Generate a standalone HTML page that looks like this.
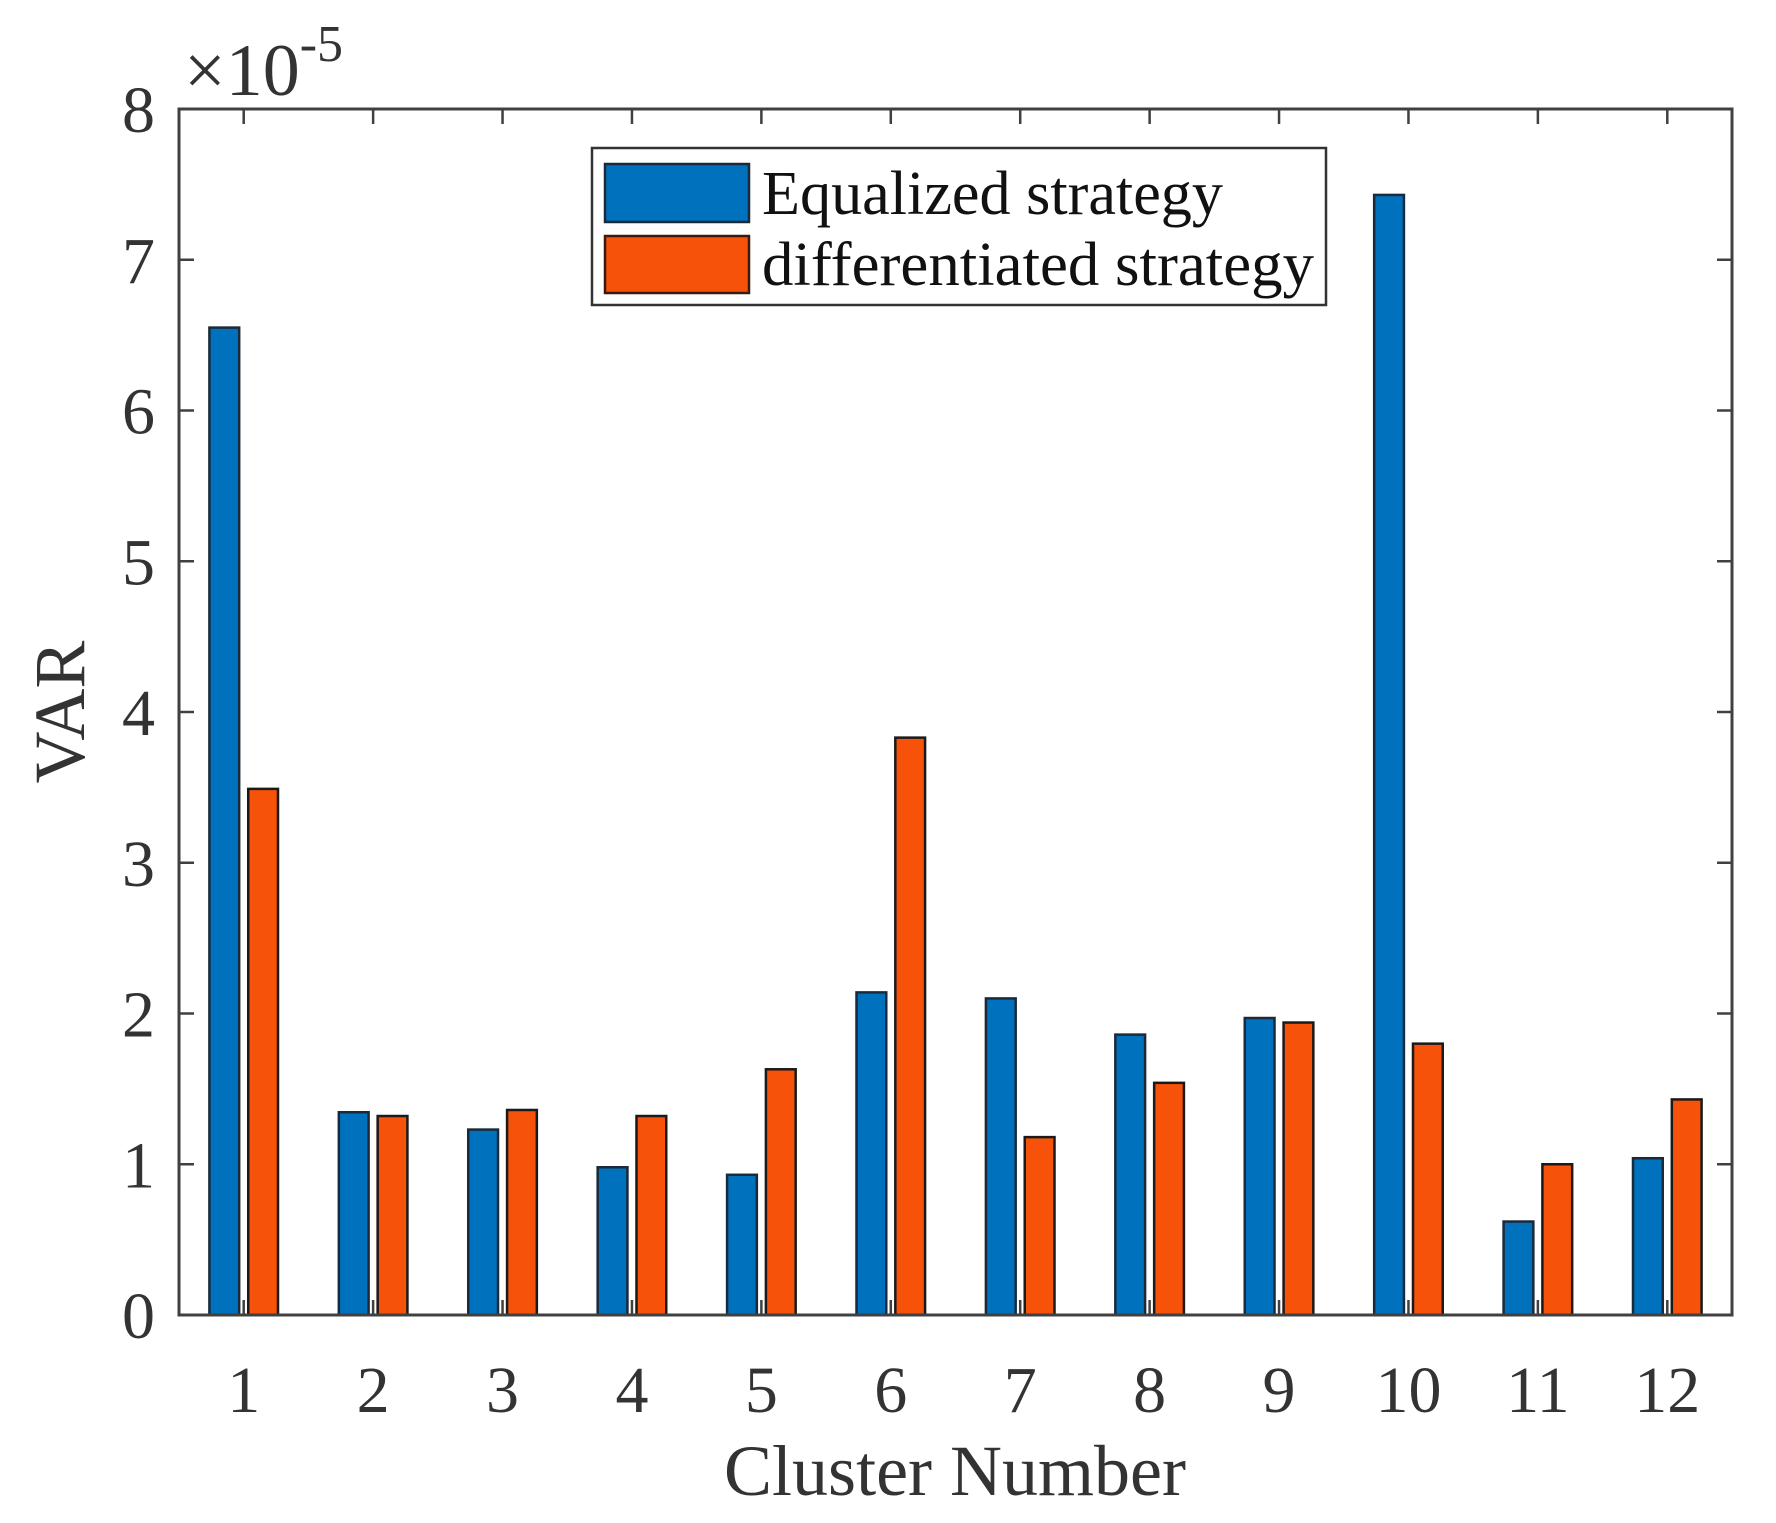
<!DOCTYPE html>
<html><head><meta charset="utf-8"><style>
html,body{margin:0;padding:0;background:#fff;}
svg{display:block;font-family:"Liberation Serif",serif;}
</style></head><body>
<svg id="chart" width="1776" height="1523" viewBox="0 0 1776 1523" xmlns="http://www.w3.org/2000/svg">
<rect x="0" y="0" width="1776" height="1523" fill="#fff"/>
<g id="bars"></g>
<g id="axes"></g>
<text x="184" y="95" font-size="74" fill="#333">×10<tspan dy="-34" font-size="52">-5</tspan></text>
<text transform="translate(84,712) rotate(-90)" text-anchor="middle" font-size="72" fill="#333">VAR</text>
<text x="955" y="1495" text-anchor="middle" font-size="72" fill="#333">Cluster Number</text>
<g>
<rect x="592" y="148" width="734" height="157" fill="#fff" stroke="#333" stroke-width="2.5"/>
<rect x="605" y="164" width="144" height="58" fill="#0072BD" stroke="#1a2a3a" stroke-width="2.5"/>
<text x="762" y="214" font-size="62" textLength="461" lengthAdjust="spacingAndGlyphs" fill="#111">Equalized strategy</text>
<rect x="605" y="236" width="144" height="57" fill="#F75209" stroke="#3a1a10" stroke-width="2.5"/>
<text x="762" y="285" font-size="62" textLength="552" lengthAdjust="spacingAndGlyphs" fill="#111">differentiated strategy</text>
</g>
</svg>
<script>
const categories = ["1","2","3","4","5","6","7","8","9","10","11","12"];
const equalizedValues = [6.55, 1.345, 1.23, 0.98, 0.93, 2.14, 2.10, 1.86, 1.97, 7.43, 0.62, 1.04];
const differentiatedValues = [3.49, 1.32, 1.36, 1.32, 1.63, 3.83, 1.18, 1.54, 1.94, 1.80, 1.00, 1.43];
const yTicks = [0,1,2,3,4,5,6,7,8];

const NS="http://www.w3.org/2000/svg";
const L=179,R=1732,T=109,B=1315;
const unit=(R-L)/categories.length;
const x = i => L + (i+0.5)*unit;
const y = v => B - v*(B-T)/8;
function mk(tag,attrs,parent){const e=document.createElementNS(NS,tag);for(const k in attrs)e.setAttribute(k,attrs[k]);parent.appendChild(e);return e;}
const bars=document.getElementById('bars'), axes=document.getElementById('axes');
const bw=unit*0.23, off=unit*0.15;
categories.forEach((c,i)=>{
  const cx=x(i);
  let r=mk('rect',{x:cx-off-bw/2,y:y(equalizedValues[i]),width:bw,height:B-y(equalizedValues[i]),fill:'#0072BD',stroke:'#1a2a3a','stroke-width':2.5},bars);
  
  
  r=mk('rect',{x:cx+off-bw/2,y:y(differentiatedValues[i]),width:bw,height:B-y(differentiatedValues[i]),fill:'#F75209',stroke:'#1a1a1a','stroke-width':2.5},bars);
  
  
  let t=mk('line',{x1:cx,x2:cx,y1:B,y2:B-15,stroke:'#404040','stroke-width':2.5},axes);
  
  
  t=mk('line',{x1:cx,x2:cx,y1:T,y2:T+15,stroke:'#404040','stroke-width':2.5},axes);
  
  
  const lb=mk('text',{x:cx,y:1412,'text-anchor':'middle','font-size':66,fill:'#333'},axes);
  lb.textContent=c;
  
  
});
yTicks.forEach(v=>{
  const yy=y(v);
  let t=mk('line',{x1:L,x2:L+15,y1:yy,y2:yy,stroke:'#404040','stroke-width':2.5},axes);
  
  
  t=mk('line',{x1:R,x2:R-15,y1:yy,y2:yy,stroke:'#404040','stroke-width':2.5},axes);
  
  
  const lb=mk('text',{x:155,y:yy+23,'text-anchor':'end','font-size':66,fill:'#333'},axes);
  lb.textContent=v;
  
  
});
const frame=mk('rect',{x:L,y:T,width:R-L,height:B-T,fill:'none',stroke:'#404040','stroke-width':3},axes);


</script>
</body></html>
